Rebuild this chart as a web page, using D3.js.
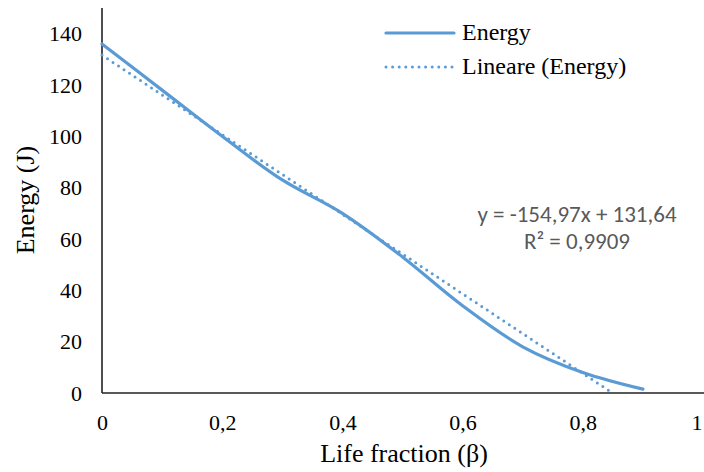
<!DOCTYPE html>
<html><head><meta charset="utf-8">
<script src="https://cdn.jsdelivr.net/npm/d3@7"></script>
<style>body{margin:0;background:#fff}svg{display:block}</style>
</head><body>
<script>
// Data
const lifeFraction = [0, 0.1, 0.2, 0.3, 0.4, 0.5, 0.6, 0.7, 0.8, 0.9];
const energy = [136, 118, 100, 83, 70, 53, 34, 18, 8, 1.5];
const trendSlope = -154.97, trendIntercept = 131.64;
const xTicks = [0, 0.2, 0.4, 0.6, 0.8, 1];
const yTicks = [0, 20, 40, 60, 80, 100, 120, 140];
const seriesNames = ["Energy", "Lineare (Energy)"];
const equationLines = ["y = -154,97x + 131,64", "R² = 0,9909"];

const W = 704, H = 472;
const m = {left: 102, right: 1, top: 8, bottom: 79};
const color = "#5B9BD5";
const SERIF = "Liberation Serif";
const EQF = "Carlito";
const svg = d3.select("body").append("svg").attr("width", W).attr("height", H);

const x = d3.scaleLinear().domain([0, 1]).range([m.left, W - m.right]);
const y = d3.scaleLinear().domain([0, 150]).range([H - m.bottom, m.top]);
const fmt = d => String(d).replace(".", ",");

// axes
const xAxis = svg.append("g").attr("transform", `translate(0,${y(0)})`)
  .call(d3.axisBottom(x).tickValues(xTicks).tickFormat(fmt).tickSize(0).tickPadding(21));
const yAxis = svg.append("g").attr("transform", `translate(${x(0)},0)`)
  .call(d3.axisLeft(y).tickValues(yTicks).tickFormat(fmt).tickSize(0).tickPadding(20));
[xAxis, yAxis].forEach(g => {
  g.select(".domain").remove();
  g.selectAll("text").style("font-family", SERIF).style("font-size", "22px").attr("fill", "#000");
});
xAxis.selectAll(".tick").filter(d => d === 1).select("text").attr("text-anchor", "end").attr("dx", -1);
svg.append("line").attr("x1", x(0)).attr("x2", x(0)).attr("y1", y(150)).attr("y2", y(0))
  .attr("stroke", "#222").attr("stroke-width", 1.6);
svg.append("line").attr("x1", x(0)).attr("x2", W).attr("y1", y(0)).attr("y2", y(0))
  .attr("stroke", "#222").attr("stroke-width", 1.6);

// trend line
const xEnd = -trendIntercept / trendSlope;
const trendPts = [0, xEnd].map(v => [v, trendIntercept + trendSlope * v]);
svg.append("path").datum(trendPts)
  .attr("d", d3.line().x(d => x(d[0])).y(d => y(d[1])))
  .attr("fill", "none").attr("stroke", color).attr("stroke-width", 3)
  .attr("stroke-linecap", "round").attr("stroke-dasharray", "0 6.6");

// series
svg.append("path").datum(lifeFraction.map((v, i) => [v, energy[i]]))
  .attr("d", d3.line().x(d => x(d[0])).y(d => y(d[1])).curve(d3.curveCatmullRom.alpha(0.5)))
  .attr("fill", "none").attr("stroke", color).attr("stroke-width", 3.2).attr("stroke-linecap", "round");

// legend
const lg = svg.append("g");
lg.append("line").attr("x1", 386).attr("x2", 454).attr("y1", 33).attr("y2", 33)
  .attr("stroke", color).attr("stroke-width", 3.2).attr("stroke-linecap", "round");
lg.append("line").attr("x1", 386).attr("x2", 454).attr("y1", 67).attr("y2", 67)
  .attr("stroke", color).attr("stroke-width", 3).attr("stroke-linecap", "round").attr("stroke-dasharray", "0 6.6");
lg.selectAll("text").data(seriesNames).join("text")
  .attr("x", 462).attr("y", (d, i) => 40 + i * 34)
  .style("font-family", SERIF).style("font-size", "24px").text(d => d);

// equation
svg.append("g").selectAll("text").data(equationLines).join("text")
  .attr("x", 577).attr("y", (d, i) => 222 + i * 27).attr("text-anchor", "middle")
  .style("font-family", EQF).style("font-size", "23px").attr("fill", "#595959").text(d => d);

// axis titles
svg.append("text").attr("x", 404).attr("y", 462).attr("text-anchor", "middle")
  .style("font-family", SERIF).style("font-size", "26px").text("Life fraction (β)");
svg.append("text").attr("transform", `translate(34,200) rotate(-90)`)
  .attr("text-anchor", "middle").style("font-family", SERIF).style("font-size", "26px").text("Energy (J)");
</script>
</body></html>
